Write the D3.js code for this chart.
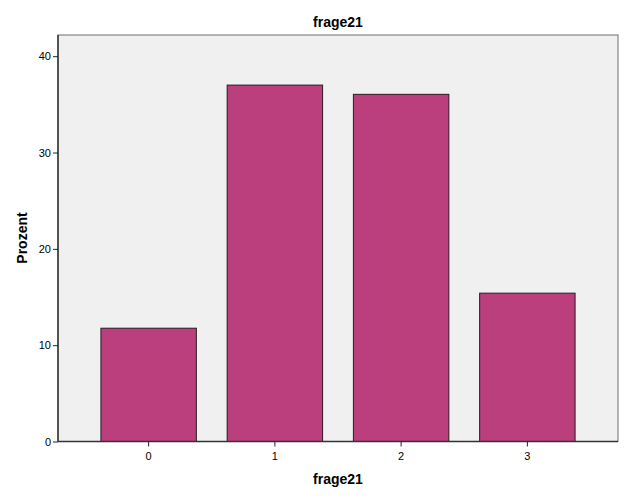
<!DOCTYPE html>
<html><head><meta charset="utf-8">
<script src="https://cdn.jsdelivr.net/npm/d3@7"></script>
<style>body{margin:0;background:#fff}svg{display:block}text{font-family:"Liberation Sans",Arial,sans-serif}</style>
</head><body>
<script>
const categories = ["0","1","2","3"];
const values = [11.76, 37.0, 36.04, 15.4];
const yTicks = [0, 10, 20, 30, 40];
const title = "frage21", xTitle = "frage21", yTitle = "Prozent";

const W = 626, H = 501;
const m = {left:58, right:8, top:35, bottom:59.5};
const svg = d3.select("body").append("svg").attr("width", W).attr("height", H);
const x = d3.scaleBand().domain(categories).range([m.left, W - m.right]).paddingInner(0.244).paddingOuter(0.34);
const y = d3.scaleLinear().domain([0, 42.2]).range([H - m.bottom, m.top]);

svg.append("rect").attr("x", m.left).attr("y", m.top).attr("width", W - m.right - m.left).attr("height", H - m.bottom - m.top)
  .attr("fill", "#f0f0f0").attr("stroke", "#6e6e6e").attr("stroke-width", 1);

svg.append("g").selectAll("rect").data(values).join("rect")
  .attr("x", (d,i) => x(categories[i])).attr("width", x.bandwidth())
  .attr("y", d => y(d)).attr("height", d => y(0) - y(d))
  .attr("fill", "#bb3f7d").attr("stroke", "#2a1a22").attr("stroke-width", 1);

const ya = svg.append("g").attr("transform", `translate(${m.left},0)`)
  .call(d3.axisLeft(y).tickValues(yTicks).tickSize(5).tickPadding(2).tickFormat(d3.format("d")));
ya.select(".domain").attr("stroke", "#333").attr("stroke-width", 1.5).attr("d", `M0,${y(0)}V${m.top}`);
ya.selectAll(".tick line").attr("stroke", "#222");
ya.selectAll("text").attr("font-size", 11).attr("fill", "#000").style("font-family", "'Liberation Sans',Arial,sans-serif");

const xa = svg.append("g").attr("transform", `translate(0,${y(0)})`)
  .call(d3.axisBottom(x).tickSize(5).tickPadding(6));
xa.select(".domain").attr("stroke", "#333").attr("stroke-width", 1.5).attr("d", `M${m.left},0H${W - m.right}`);
xa.selectAll(".tick line").attr("stroke", "#222");
xa.selectAll("text").attr("font-size", 11).attr("fill", "#000").style("font-family", "'Liberation Sans',Arial,sans-serif");

svg.append("text").attr("x", 338).attr("y", 27).attr("text-anchor", "middle")
  .attr("font-size", 14).attr("font-weight", "bold").text(title);
svg.append("text").attr("x", 338).attr("y", 484).attr("text-anchor", "middle")
  .attr("font-size", 14).attr("font-weight", "bold").text(xTitle);
svg.append("text").attr("transform", "translate(27,238) rotate(-90)").attr("text-anchor", "middle")
  .attr("font-size", 14).attr("font-weight", "bold").text(yTitle);
</script>
</body></html>
